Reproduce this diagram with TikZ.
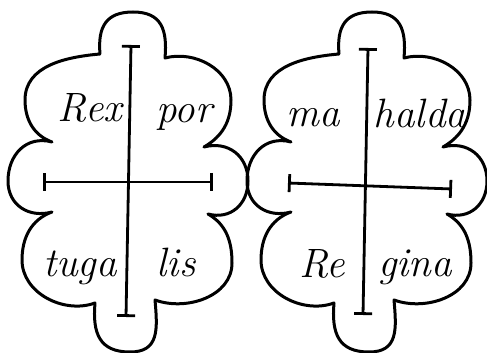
\documentclass[tikz,border=0pt]{standalone}
\usepackage{tikz}
\usetikzlibrary{arrows.meta}

\begin{document}
\begin{tikzpicture}[x=1pt, y=1pt,
    outline/.style={line width=3pt, line join=round},
    bar/.style={line width=2.8pt, {Bar[width=18pt,line width=2.8pt]}-{Bar[width=18pt,line width=2.8pt]}},
    word/.style={font=\fontsize{41}{44}\selectfont\itshape, inner sep=0pt, anchor=base},
  ]
  \useasboundingbox (0,0) rectangle (487,353);

  % the two clouds, the right one shifted
  \foreach \dx in {0,239} {
    \begin{scope}[xshift=\dx]
      \draw[outline] (100,299) to[out=95,in=180,looseness=1.3] (133,341) to[out=0,in=85,looseness=1.3] (165,295)
        to[out=15,in=90] (231,253) to[out=-90,in=30] (204,206)
        to[out=15,in=90,looseness=1.15] (248,172) to[out=-90,in=-15,looseness=1.15] (208,139)
        to[out=-30,in=90] (232,90) to[out=-90,in=-20] (155,53)
        to[out=-85,in=0,looseness=1.3] (130,1) to[out=180,in=-95,looseness=1.3] (95,50)
        to[out=200,in=-90] (22,93) to[out=90,in=200] (52,141)
        to[out=195,in=-90,looseness=1.15] (8,172) to[out=90,in=165,looseness=1.15] (52,211)
        to[out=160,in=-90] (25,253) to[out=90,in=185] cycle;
    \end{scope}
  }

  % crosses
  \coordinate (Ltop) at (131,308);
  \coordinate (Lbot) at (126,36);
  \coordinate (Lwest) at (43,171);
  \coordinate (Least) at (213,171);
  \coordinate (Rtop) at (368,305);
  \coordinate (Rbot) at (363,38);
  \coordinate (Rwest) at (288,170);
  \coordinate (Reast) at (452,164);
  \draw[bar] (Ltop) -- (Lbot);
  \draw[bar] (Lwest) -- (Least);
  \draw[bar] (Rtop) -- (Rbot);
  \draw[bar] (Rwest) -- (Reast);

  % legend
  \node[word] (rex) at (90,231) {Rex};
  \node[word] (por) at (184,230) {por};
  \node[word] (tuga) at (80,76) {tuga};
  \node[word] (lis) at (176,76) {lis};
  \node[word] (ma) at (313,226) {ma};
  \node[word] (halda) at (420,225) {halda};
  \node[word] (re) at (322,75) {Re};
  \node[word] (gina) at (415,76) {gina};
\end{tikzpicture}
\end{document}
